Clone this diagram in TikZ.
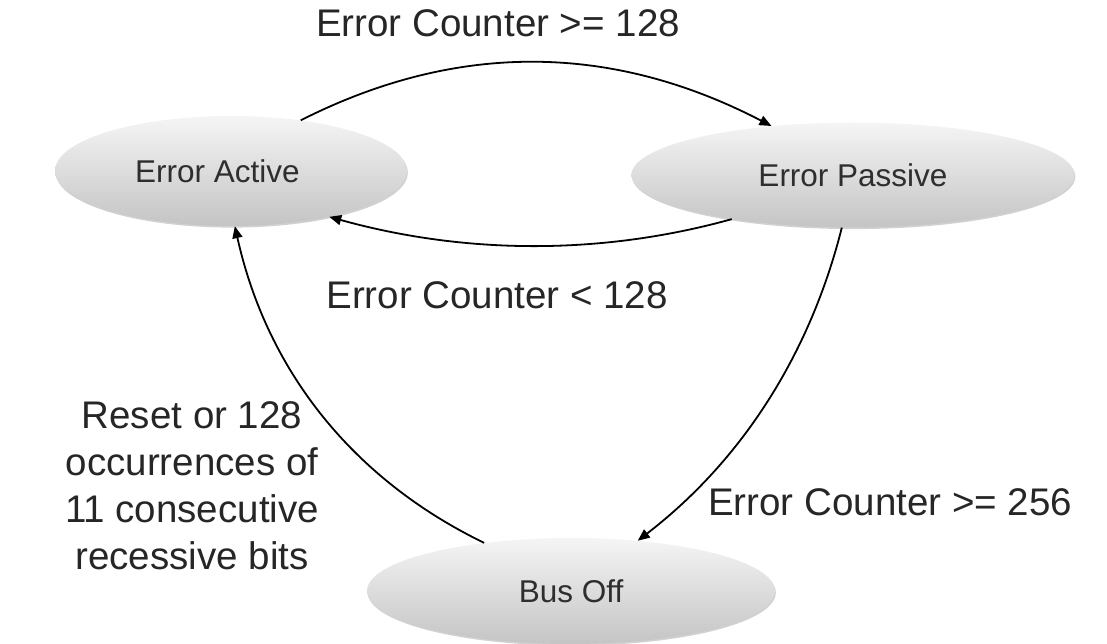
\documentclass[tikz,border=0pt]{standalone}
\usepackage{fontspec}
\setmainfont{Liberation Sans}
\usetikzlibrary{arrows.meta,shapes.geometric,shadows}
\begin{document}
\begin{tikzpicture}[x=1pt,y=-1pt,
  state/.style={ellipse, draw=none, top color=black!4, bottom color=black!23,
    drop shadow={shadow xshift=0.8pt, shadow yshift=-1.6pt, opacity=0.3, fill=black!60},
    inner sep=0pt, font=\fontsize{31.5}{38}\selectfont, text=black!82},
  lbl/.style={inner sep=0pt, font=\fontsize{38.5}{47}\selectfont, text=black!85},
  link/.style={line width=1.8pt, draw=black, -{Triangle[length=12pt,width=10pt]}}]
\useasboundingbox (0,0) rectangle (1107,644);
\node[state, minimum width=352pt, minimum height=110pt] (EA) at (231,171) {Error Active\hspace*{27pt}};
\node[state, minimum width=443pt, minimum height=105pt] (EP) at (853,175) {Error Passive};
\node[state, minimum width=408pt, minimum height=106pt] (BO) at (571,591) {Bus Off};

\node[lbl, anchor=base] (l1) at (498,37) {Error Counter >= 128};
\node[lbl, anchor=base] (l2) at (497,308) {Error Counter < 128};
\node[lbl, anchor=base west] (l3) at (708,515) {Error Counter >= 256};
\node[lbl, align=center, anchor=north] (l4) at (192,401) {Reset or 128\\occurrences of\\11 consecutive\\recessive bits};

\draw[link] (EA.36) .. controls +(158,-80) and +(-158,-82) .. (EP.149);
\draw[link] (EP.200) .. controls +(-133,37) and +(133,37) .. (EA.-25);
\draw[link] (EP.258) .. controls +(-32,127) and +(104,-80) .. (BO.37);
\draw[link] (BO.151) .. controls +(-132,-64) and +(32,144) .. (EA.-86);
\end{tikzpicture}
\end{document}
